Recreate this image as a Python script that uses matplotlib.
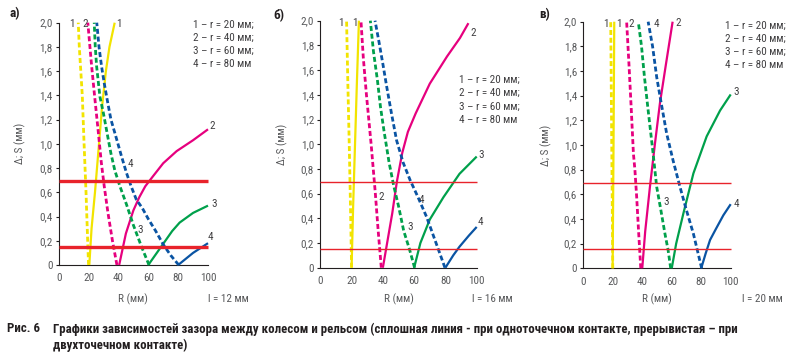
import matplotlib
matplotlib.use("Agg")
import matplotlib.pyplot as plt

plt.rcParams['font.family'] = ['Roboto Condensed', 'Archivo Narrow', 'Liberation Sans Narrow', 'DejaVu Sans']

# ---- data: (R, Δ/S) points ----
# panel а) l = 12 мм
a1_solid = [(20.5, 0), (22, 0.3), (24.3, 0.6), (27, 1.0), (29, 1.3), (31.6, 1.6), (34, 1.8), (37.5, 2.0)]
a1_dash = [(20, 0), (19.4, 0.2), (18.3, 0.6), (17, 1.0), (15.8, 1.4), (13.8, 1.8), (13.1, 2.0)]
a2_solid = [(40.5, 0), (45, 0.26), (50, 0.45), (54, 0.56), (58, 0.65), (63, 0.73), (70, 0.84), (79, 0.94), (90, 1.03), (100, 1.12)]
a2_dash = [(39, 0), (36, 0.2), (33, 0.43), (30.5, 0.65), (28.5, 0.85), (26.5, 1.1), (24, 1.4), (22, 1.65), (20.5, 1.86), (19.5, 2.0)]
a3_solid = [(60, 0), (64, 0.07), (68, 0.14), (72, 0.21), (76, 0.28), (81, 0.35), (90, 0.43), (100, 0.49)]
a3_dash = [(60.5, 0), (55.5, 0.15), (50, 0.33), (45.4, 0.5), (41, 0.65), (37.6, 0.78), (35, 0.92), (33, 1.05), (30, 1.25), (27.6, 1.39), (25.4, 1.64), (24.5, 1.8), (23.8, 2.0)]
a4_solid = [(80, 0), (85, 0.05), (90, 0.1), (95, 0.14), (100, 0.18)]
a4_dash = [(80.4, 0), (75, 0.08), (70, 0.17), (65, 0.28), (60, 0.38), (56, 0.47), (52, 0.54), (48.5, 0.65), (45.4, 0.76), (42, 0.9), (37.6, 1.09), (35, 1.2), (33, 1.33), (30.5, 1.5), (28.7, 1.64), (27, 1.8), (25.5, 2.0)]

# panel б) l = 16 мм
b1_solid = [(20, 0), (21, 0.5), (22.2, 1.0), (23.4, 1.5), (24.7, 2.0)]
b1_dash = [(20, 0), (19.3, 0.5), (18.5, 1.0), (17.6, 1.5), (16.8, 2.0)]
b2_solid = [(40, 0), (43, 0.22), (46, 0.44), (49, 0.7), (52.4, 0.93), (56, 1.1), (61, 1.25), (70, 1.49), (81, 1.71), (89.3, 1.86), (94.7, 1.98)]
b2_dash = [(39, 0), (37, 0.3), (35.2, 0.6), (32.5, 1.0), (29.5, 1.4), (27.5, 1.7), (26, 2.0)]
b3_solid = [(60, 0), (64, 0.2), (70, 0.39), (78.7, 0.57), (89, 0.76), (100, 0.9)]
b3_dash = [(60.3, 0), (57, 0.15), (53.3, 0.3), (50, 0.5), (47, 0.66), (44, 0.85), (40.7, 1.11), (38.5, 1.3), (36.5, 1.52), (34, 1.75), (32, 2.0)]
b4_solid = [(80, 0), (85, 0.1), (89, 0.17), (95, 0.26), (100, 0.33)]
b4_dash = [(79.7, 0), (74, 0.2), (68, 0.41), (62.5, 0.57), (57.4, 0.71), (53, 0.85), (48.8, 1.03), (45.5, 1.25), (42.4, 1.47), (40, 1.65), (37.5, 1.83), (35, 2.0)]

# panel в) l = 20 мм
c1_solid = [(19.9, 0), (20.5, 1.0), (21, 2.0)]
c1_dash = [(20, 0), (19.3, 1.0), (18.6, 2.0)]
c2_solid = [(40, 0), (42, 0.3), (45.2, 0.66), (48.5, 1.0), (52, 1.34), (56, 1.65), (60.6, 2.0)]
c2_dash = [(39, 0), (37.5, 0.3), (36.2, 0.58), (35, 0.8), (34, 0.93), (32.5, 1.3), (31, 1.65), (29.4, 2.0)]
c3_solid = [(60, 0), (63, 0.2), (68, 0.45), (74.7, 0.77), (83.7, 1.07), (92.8, 1.28), (100, 1.41)]
c3_dash = [(59.3, 0), (57.5, 0.15), (55.4, 0.28), (52.5, 0.48), (49.8, 0.66), (47, 0.97), (44, 1.28), (41.5, 1.55), (39.5, 1.8), (37.3, 2.0)]
c4_solid = [(80, 0), (83, 0.12), (86, 0.23), (90, 0.32), (95, 0.43), (100, 0.52)]
c4_dash = [(80.3, 0), (74.7, 0.28), (70, 0.47), (65.6, 0.66), (61, 0.87), (56.6, 1.09), (53, 1.33), (49.8, 1.55), (47, 1.8), (44, 2.0)]

# red limit lines
red_levels_a = [0.69, 0.15]
red_levels_b = [0.69, 0.15]
red_levels_c = [0.69, 0.155]

# curve number labels (text, R, S)
marks_a = [("1", 8.7, 1.99), ("2", 17.6, 1.99), ("1", 40.5, 1.99), ("2", 103, 1.15),
           ("3", 104, 0.5), ("4", 101.8, 0.23), ("4", 47.7, 0.83), ("3", 54.3, 0.29)]
marks_b = [("1", 13, 1.98), ("1", 21.9, 1.98), ("2", 98, 1.9), ("2", 38.8, 0.57),
           ("4", 64.8, 0.55), ("3", 57.3, 0.33), ("3", 103, 0.91), ("4", 102.5, 0.37)]
marks_c = [("1", 15.2, 1.98), ("1", 24, 1.98), ("2", 32.6, 1.98), ("4", 49.8, 1.98),
           ("2", 64.7, 1.99), ("3", 56.6, 0.54), ("3", 103.6, 1.43), ("4", 103.6, 0.52)]

legend_lines = ["1 – r = 20 мм;", "2 – r = 40 мм;", "3 – r = 60 мм;", "4 – r = 80 мм"]
x_ticks = [0, 20, 40, 60, 80, 100]
y_ticks = [0, 0.2, 0.4, 0.6, 0.8, 1.0, 1.2, 1.4, 1.6, 1.8, 2.0]
y_tick_labels = ["0", "0,2", "0,4", "0,6", "0,8", "1,0", "1,2", "1,4", "1,6", "1,8", "2,0"]

colors = {1: '#f2e400', 2: '#e6007e', 3: '#00a04b', 4: '#0a54a3'}
red = '#e8232b'
gray = '#58595b'


def draw_panel(ax, solids, dashes, levels, red_lw, marks, leg_x, leg_y):
    for k, pts in solids.items():
        r, s = zip(*pts)
        ax.plot(r, s, color=colors[k], lw=1.6, clip_on=False, zorder=3,
                solid_capstyle='butt')
    for k, pts in dashes.items():
        r, s = zip(*pts)
        ax.plot(r, s, color=colors[k], lw=2.0, ls=(0, (1.8, 1.0)), clip_on=False,
                zorder=3)
    for lv in levels:
        ax.plot([0, 100], [lv, lv], color=red, lw=red_lw, zorder=4, clip_on=False,
                solid_capstyle='butt')
    for t, r, s in marks:
        ax.text(r, s, t, fontsize=8, color='#414042', ha='center', va='center')
    for i, line in enumerate(legend_lines):
        ax.text(leg_x, leg_y - i * 0.107, line, fontsize=8, color='#414042',
                ha='left', va='center')

    ax.set_xlim(0, 100)
    ax.set_ylim(0, 2.0)
    ax.set_xticks(x_ticks)
    ax.set_yticks(y_ticks)
    ax.set_yticklabels(y_tick_labels)
    ax.tick_params(axis='both', labelsize=8, labelcolor=gray, color='#231f20')
    ax.tick_params(axis='y', length=2.5, width=0.8, pad=2)
    ax.tick_params(axis='x', length=0, pad=6)
    for side in ['top', 'right']:
        ax.spines[side].set_visible(False)
    for side in ['left', 'bottom']:
        ax.spines[side].set_color('#231f20')
        ax.spines[side].set_linewidth(0.8)
    ax.set_ylabel("Δ; S (мм)", fontsize=8, color=gray)


W, H = 792, 361
fig = plt.figure(figsize=(W / 100, H / 100), dpi=100)


def px_axes(x0, x1, ytop, ybot):
    return fig.add_axes([x0 / W, 1 - ybot / H, (x1 - x0) / W, (ybot - ytop) / H])


ax_a = px_axes(58.7, 208, 22.7, 265)
ax_b = px_axes(320.3, 476.7, 20.7, 267.7)
ax_c = px_axes(583.3, 730.7, 21.7, 268.3)

draw_panel(ax_a, {1: a1_solid, 2: a2_solid, 3: a3_solid, 4: a4_solid},
           {1: a1_dash, 2: a2_dash, 3: a3_dash, 4: a4_dash},
           red_levels_a, 2.4, marks_a, 90, 1.98)
draw_panel(ax_b, {1: b1_solid, 2: b2_solid, 3: b3_solid, 4: b4_solid},
           {1: b1_dash, 2: b2_dash, 3: b3_dash, 4: b4_dash},
           red_levels_b, 1.0, marks_b, 88.9, 1.52)
draw_panel(ax_c, {1: c1_solid, 2: c2_solid, 3: c3_solid, 4: c4_solid},
           {1: c1_dash, 2: c2_dash, 3: c3_dash, 4: c4_dash},
           red_levels_c, 1.0, marks_c, 96, 1.97)

ax_a.yaxis.set_label_coords(-0.22, 0.5)
ax_b.yaxis.set_label_coords(-0.205, 0.5)
ax_c.yaxis.set_label_coords(-0.214, 0.5)

# labels under the axes, panel letters
for xc, lx, ltxt in [(133, 208, "l = 12 мм"), (398.5, 472, "l = 16 мм"), (657, 742, "l = 20 мм")]:
    fig.text(xc / W, 1 - 299 / H, "R (мм)", fontsize=8, color=gray, ha='center', va='center')
    fig.text(lx / W, 1 - 299 / H, ltxt, fontsize=8, color=gray, ha='left', va='center')

for x, y, t in [(10, 14, "а)"), (273, 16, "б)"), (539, 15, "в)")]:
    fig.text(x / W, 1 - y / H, t, fontsize=9.5, fontweight='bold', color='#231f20',
             ha='left', va='center')

fig.text(7 / W, 1 - 329 / H, "Рис. 6", fontsize=9.3, fontweight='bold', color='#231f20',
         ha='left', va='center')
fig.text(53 / W, 1 - 329 / H,
         "Графики зависимостей зазора между колесом и рельсом (сплошная линия - при "
         "одноточечном контакте, прерывистая – при",
         fontsize=9.3, fontweight='bold', color='#231f20', ha='left', va='center')
fig.text(53 / W, 1 - 345 / H, "двухточечном контакте)", fontsize=9.3, fontweight='bold',
         color='#231f20', ha='left', va='center')

fig.savefig("out.png", dpi=100)
